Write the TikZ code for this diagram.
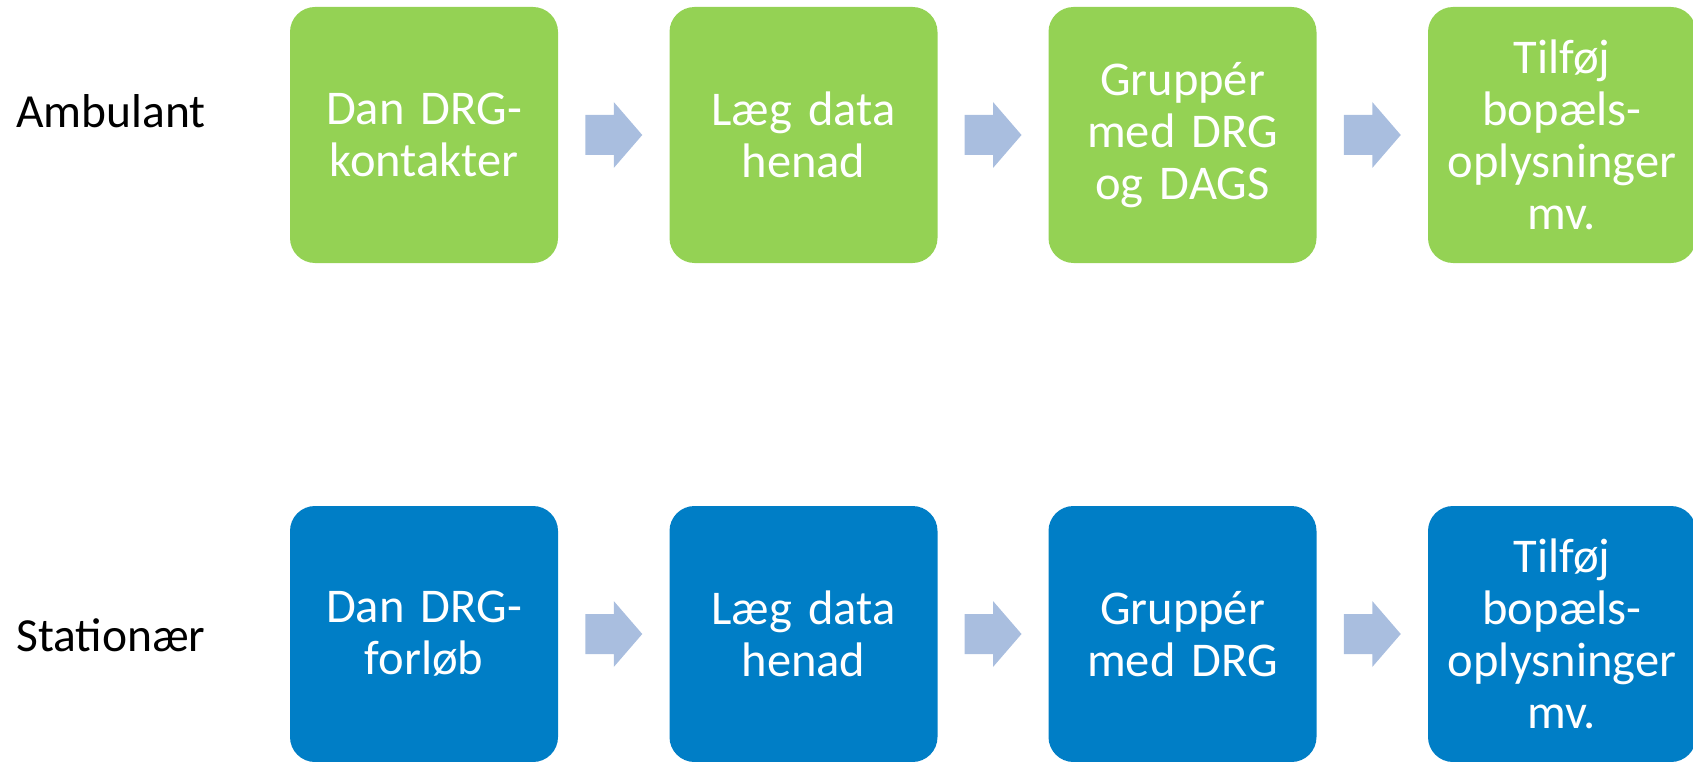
\documentclass[tikz,border=0pt]{standalone}
\usepackage{fontspec}
\setmainfont{Carlito}
\usetikzlibrary{calc}
\definecolor{boxgreen}{HTML}{94D254}
\definecolor{boxblue}{HTML}{007EC6}
\definecolor{arrowblue}{HTML}{A9BEDF}
\tikzset{
  stepbox/.style={rounded corners=25pt, minimum width=268pt, minimum height=256pt,
    inner sep=0pt, text width=264pt, align=center, text=white,
    font=\fontsize{48.5}{52}\selectfont},
  greenbox/.style={stepbox, fill=boxgreen},
  bluebox/.style={stepbox, fill=boxblue},
  rowlabel/.style={anchor=base west, inner sep=0pt, text=black,
    font=\fontsize{47.5}{52}\selectfont},
  blockarrow/.style={fill=arrowblue}
}
\newcommand{\blockarrowat}[1]{%
  \fill[blockarrow] ([xshift=-28.5pt,yshift=20pt]#1) -- ([xshift=0pt,yshift=20pt]#1)
    -- ([xshift=0pt,yshift=33pt]#1) -- ([xshift=28.5pt]#1)
    -- ([xshift=0pt,yshift=-33pt]#1) -- ([xshift=0pt,yshift=-20pt]#1)
    -- ([xshift=-28.5pt,yshift=-20pt]#1) -- cycle;}
\begin{document}
\begin{tikzpicture}[x=1pt,y=1pt]
\useasboundingbox (0,0) rectangle (1693,-762);
\clip (0,0) rectangle (1693,-762);
% row labels
\node[rowlabel] (lamb) at (16,-128) {Ambulant};
\node[rowlabel] (lsta) at (16,-651) {Stationær};
% top row
\node[greenbox] (a1) at (424,-135) {Dan DRG-\\kontakter};
\node[greenbox] (a2) at (803.5,-135) {Læg data\\henad};
\node[greenbox] (a3) at (1182.5,-135) {Gruppér\\med DRG\\og DAGS};
\node[greenbox] (a4) at (1562,-135) {Tilføj\\bopæls-\\oplysninger\\mv.};
% bottom row
\node[bluebox] (b1) at (424,-634) {Dan DRG-\\forløb};
\node[bluebox] (b2) at (803.5,-634) {Læg data\\henad};
\node[bluebox] (b3) at (1182.5,-634) {Gruppér\\med DRG};
\node[bluebox] (b4) at (1562,-634) {Tilføj\\bopæls-\\oplysninger\\mv.};
% block arrows between boxes
\coordinate (pa1) at ($(a1.east)!0.5!(a2.west)$);
\coordinate (pa2) at ($(a2.east)!0.5!(a3.west)$);
\coordinate (pa3) at ($(a3.east)!0.5!(a4.west)$);
\coordinate (pb1) at ($(b1.east)!0.5!(b2.west)$);
\coordinate (pb2) at ($(b2.east)!0.5!(b3.west)$);
\coordinate (pb3) at ($(b3.east)!0.5!(b4.west)$);
\blockarrowat{pa1}
\blockarrowat{pa2}
\blockarrowat{pa3}
\blockarrowat{pb1}
\blockarrowat{pb2}
\blockarrowat{pb3}
\end{tikzpicture}
\end{document}
